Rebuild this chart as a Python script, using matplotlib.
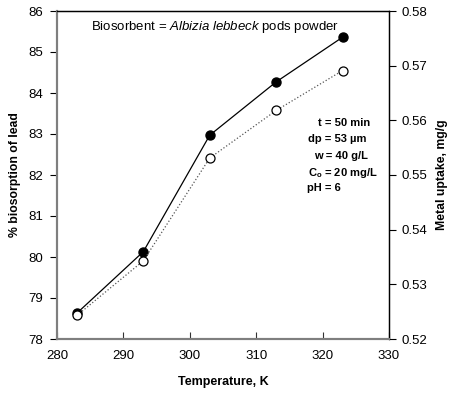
import matplotlib.pyplot as plt

plt.rcParams['font.family'] = ['Liberation Sans', 'DejaVu Sans']
plt.rcParams['mathtext.fontset'] = 'custom'
plt.rcParams['mathtext.rm'] = 'Liberation Sans'
plt.rcParams['mathtext.it'] = 'Liberation Sans:italic'
plt.rcParams['mathtext.bf'] = 'Liberation Sans:bold'

# data
temp = [283, 293, 303, 313, 323]
biosorption = [78.63, 80.13, 82.97, 84.27, 85.36]
uptake = [0.5243, 0.5343, 0.5531, 0.5618, 0.5691]

fig = plt.figure(figsize=(4.5, 3.93), dpi=100)
ax = fig.add_axes([57/450, 1-339/393, 332/450, 328/393])
ax2 = ax.twinx()

ax.plot(temp, biosorption, '-', color='black', lw=0.9, marker='o', ms=6.5,
        mfc='black', mec='black', zorder=3)
ax2.plot(temp, uptake, ':', color='#555555', lw=0.9, marker='o', ms=6.5,
         mfc='white', mec='black', mew=0.9, zorder=3)

ax.set_xlim(280, 330)
ax.set_ylim(78, 86)
ax2.set_ylim(0.52, 0.58)
ax.set_xticks(range(280, 331, 10))
ax.set_yticks(range(78, 87))
ax2.set_yticks([0.52, 0.53, 0.54, 0.55, 0.56, 0.57, 0.58])
ax2.set_yticklabels(['0.52', '0.53', '0.54', '0.55', '0.56', '0.57', '0.58'])

ax.tick_params(axis='x', direction='in', length=5, labelsize=9.5, pad=8, color='#333333')
ax.tick_params(axis='y', direction='out', length=5, labelsize=9.5, pad=5, color='black')
ax2.tick_params(axis='y', direction='out', length=5, labelsize=9.5, pad=4)

for a in (ax, ax2):
    a.spines['left'].set_color('#7f7f7f')
    a.spines['left'].set_linewidth(1.5)
    a.spines['bottom'].set_color('#7f7f7f')
    a.spines['bottom'].set_linewidth(1.5)
    a.spines['top'].set_linewidth(0.9)
    a.spines['right'].set_linewidth(0.9)

ax.set_xlabel('Temperature, K', fontsize=9, fontweight='bold', labelpad=10)
ax.set_ylabel('% biosorption of lead', fontsize=8.8, fontweight='bold', labelpad=5)
ax2.set_ylabel('Metal uptake, mg/g', fontsize=8.8, fontweight='bold', labelpad=6)

fig.text(91/450, 1-27/393, 'Biosorbent = $\\it{Albizia\\ lebbeck}$ pods powder',
         ha='left', va='center', fontsize=9.5)

info = ['t = 50 min', 'dp = 53 \u00b5m', 'w = 40 g/L', 'C$_\\mathbf{o}$ = 20 mg/L', 'pH = 6']
ys = [123, 139, 156, 173, 188]
xs = [318, 308, 314, 308, 307]
for s, y, x in zip(info, ys, xs):
    fig.text(x/450, 1-y/393, s, ha='left', va='center', fontsize=8, fontweight='bold')

fig.savefig('out.png', dpi=100)
